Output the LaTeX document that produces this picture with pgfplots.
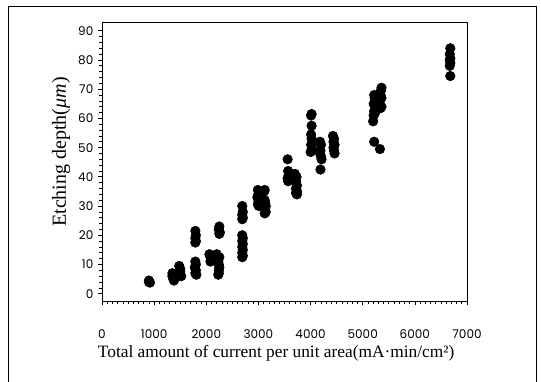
\documentclass[border=0pt]{standalone}
\usepackage{fontspec}
\setmainfont{Liberation Serif}
\newfontfamily\tickfont{Poppins}
\usepackage{pgfplots}
\pgfplotsset{compat=1.18}
\begin{document}
\begin{tikzpicture}
\path[use as bounding box] (0pt,0pt) rectangle (405.75pt,285.75pt);
\draw[line width=0.6pt] (6pt,-3pt) -- (6pt,281.25pt) -- (402pt,281.25pt) -- (402pt,-3pt);
\begin{axis}[
  at={(76.5pt,60pt)}, anchor=south west,
  scale only axis, width=273.75pt, height=209.25pt,
  xmin=0, xmax=7000, ymin=-2.5, ymax=93,
  xtick={0,1000,...,7000}, ytick={0,10,...,90},
  minor x tick num=9, minor y tick num=4,
  xtick pos=bottom, ytick pos=left,
  tick align=outside,
  major tick length=3pt, minor tick length=2pt,
  axis line style={line width=0.6pt},
  every tick/.style={black, line width=0.5pt},
  /pgf/number format/assume math mode=true,
  /pgf/number format/1000 sep={},
  ticklabel style={font=\tickfont\fontsize{9}{10}\selectfont},
  xticklabel style={yshift=-15pt},
  xlabel={Total amount of current per unit area(mA·min/cm²)},
  ylabel={Etching depth(\textit{μm})},
  xlabel style={font=\fontsize{13}{15}\selectfont, at={(axis description cs:0.477,-0.1864)}, anchor=center},
  ylabel style={font=\fontsize{15}{17}\selectfont, at={(axis description cs:-0.1123,0.534)}, anchor=center},
]
\addplot[only marks, mark=*, mark size=3.6pt, black] coordinates {
(900,4.5) (900,4.0) (920,3.8)
(1350,7) (1350,6) (1370,5) (1380,4.5) (1400,5.5)
(1480,9.5) (1500,8.5) (1500,7.5) (1490,6.5) (1520,6) (1450,6)
(1790,11) (1800,10) (1780,9) (1800,8) (1790,7) (1810,6.5)
(1790,21.5) (1800,20) (1790,19) (1800,18) (1790,17.5)
(2060,13.5) (2080,12.5) (2100,11.5) (2080,11)
(2200,13.5) (2250,12.5) (2230,11) (2240,10) (2250,9) (2240,8) (2240,7) (2230,6.5)
(2250,23) (2240,22) (2260,21) (2250,20.5)
(2690,30) (2700,28) (2690,27) (2700,26) (2690,25.5)
(2690,20) (2700,19) (2690,18) (2700,17) (2690,16) (2700,15) (2690,14) (2700,13) (2690,12.5)
(2990,35.5) (3000,34) (2980,33) (3000,31.5) (2990,30.5) (3010,30)
(3120,35.5) (3110,35) (3120,32) (3130,31) (3140,30) (3130,29) (3140,28) (3120,27.5)
(3560,46) (3570,42) (3580,40.5) (3560,39.5) (3570,38.5)
(3700,41) (3730,40) (3720,38.5) (3740,37) (3720,36) (3740,35) (3720,34.5) (3740,34)
(4020,61.5) (4010,61) (4020,57.5) (4010,54.5) (4020,53) (4010,51) (4030,49.5) (4000,48.5)
(4180,52) (4200,51) (4190,49) (4180,48) (4200,47) (4210,46) (4190,42.5)
(4430,54) (4450,53) (4440,52) (4460,51) (4440,50) (4450,49) (4460,48)
(5220,68) (5230,67) (5210,65) (5240,64) (5220,62.5) (5240,62) (5210,61) (5200,59) (5220,52)
(5360,70.5) (5350,69.5) (5340,68) (5360,67) (5330,66) (5360,64) (5340,63.5) (5330,49.5)
(6680,84) (6670,82) (6680,80.5) (6670,80) (6680,79) (6670,78) (6680,74.5)
};
\end{axis}
\end{tikzpicture}
\end{document}
